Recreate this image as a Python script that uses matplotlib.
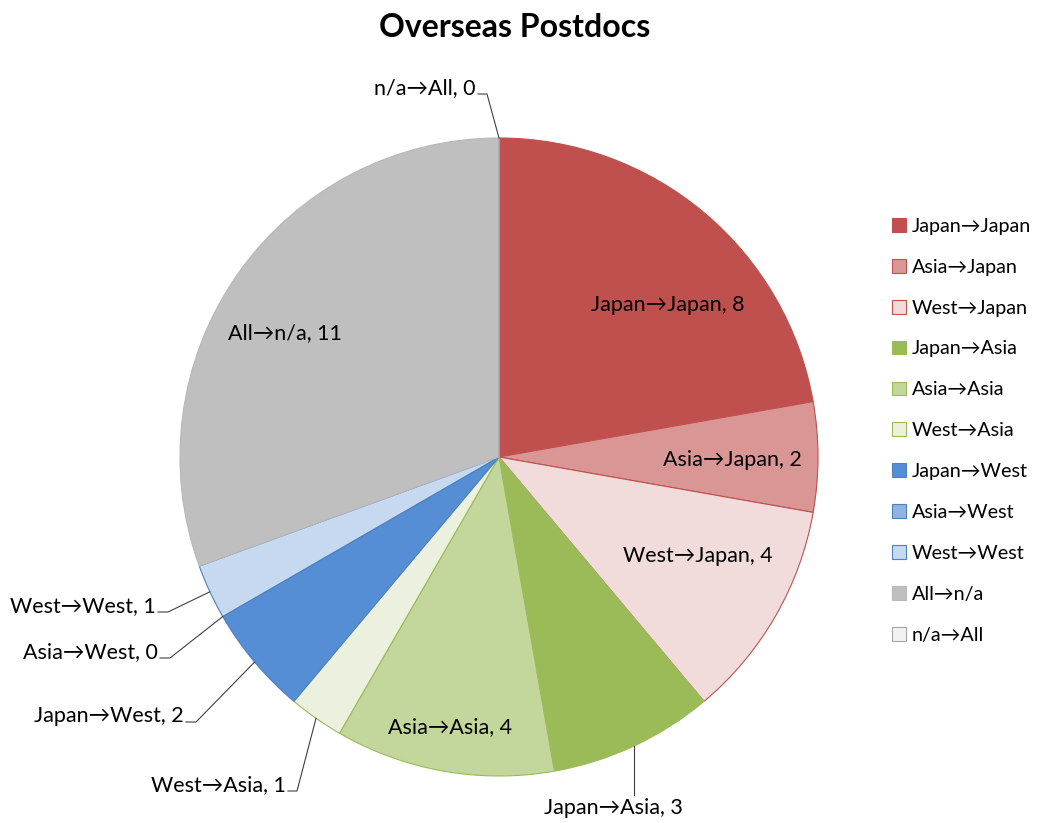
import numpy as np
import matplotlib
matplotlib.use("Agg")
import matplotlib.pyplot as plt

plt.rcParams['font.family'] = ['Lato', 'DejaVu Sans']

categories = ["Japan→Japan", "Asia→Japan", "West→Japan",
              "Japan→Asia", "Asia→Asia", "West→Asia",
              "Japan→West", "Asia→West", "West→West",
              "All→n/a", "n/a→All"]
counts = [8, 2, 4, 3, 4, 1, 2, 0, 1, 11, 0]
face_colors = ["#C0504D", "#D99694", "#F2DCDB",
               "#9BBB59", "#C3D69B", "#EBF1DE",
               "#558ED5", "#8EB4E3", "#C6D9F1",
               "#BFBFBF", "#F2F2F2"]
edge_colors = ["#C0504D", "#C0504D", "#C0504D",
               "#9BBB59", "#9BBB59", "#9BBB59",
               "#4F81BD", "#4F81BD", "#4F81BD",
               "#B8B8B8", "#A6A6A6"]

W, H = 1037, 823
fig = plt.figure(figsize=(W / 100, H / 100), dpi=100)
ax = fig.add_axes([0, 0, 1, 1])

cx, cy, R = 499, H - 457, 319
wedges, _ = ax.pie(counts, colors=face_colors, startangle=90, counterclock=False,
                   center=(cx, cy), radius=R, frame=True,
                   wedgeprops=dict(linewidth=0.8))
for w, ec in zip(wedges, edge_colors):
    w.set_edgecolor(ec)
ax.set_xlim(0, W)
ax.set_ylim(0, H)
ax.set_aspect("equal")
ax.axis("off")

fs = 15.5
total = sum(counts)
angles = []
a = 90.0
for c in counts:
    span = 360.0 * c / total
    angles.append(a - span / 2)
    a -= span

def edge_point(i):
    t = np.deg2rad(angles[i])
    return cx + R * np.cos(t), cy + R * np.sin(t)

# labels placed inside the larger slices (pixel positions from top)
inside = {0: (668, 305), 1: (732, 460), 2: (698, 556), 4: (450, 727), 9: (285, 333)}
for i, (x, y) in inside.items():
    ax.text(x, H - y, f"{categories[i]}, {counts[i]}", ha="center", va="center",
            fontsize=fs, color="black")

# labels outside with leader lines: (text anchor x, y, ha, underline start, underline end)
outside = {
    10: (476, 88, "right", 478, 487),
    8: (156, 606, "right", 158, 168),
    7: (158, 652, "right", 160, 170),
    6: (184, 716, "right", 186, 196),
    5: (286, 785, "right", 288, 297),
}
for i, (tx, ty, ha, u0, u1) in outside.items():
    ax.text(tx, H - ty, f"{categories[i]}, {counts[i]}", ha=ha, va="center",
            fontsize=fs, color="black")
    px, py = edge_point(i)
    uy = H - (ty + 6)
    ax.plot([u0, u1, px], [uy, uy, py], color="#404040", linewidth=0.8)

# Japan→Asia label hangs below the pie
px, py = edge_point(3)
ax.plot([px, px], [py, H - 795], color="#404040", linewidth=0.8)
ax.text(613, H - 808, f"{categories[3]}, {counts[3]}", ha="center", va="center",
        fontsize=fs, color="black")

ax.text(515, H - 27, "Overseas Postdocs", ha="center", va="center",
        fontsize=23, fontweight="bold", color="black")

leg = ax.legend(wedges, categories, loc="upper left",
                bbox_to_anchor=(884 / W, (H - 210) / H), frameon=False,
                fontsize=14.2, handlelength=0.7, handleheight=0.7,
                handletextpad=0.3, labelspacing=1.21, borderaxespad=0)

fig.savefig("out.png", dpi=100)
